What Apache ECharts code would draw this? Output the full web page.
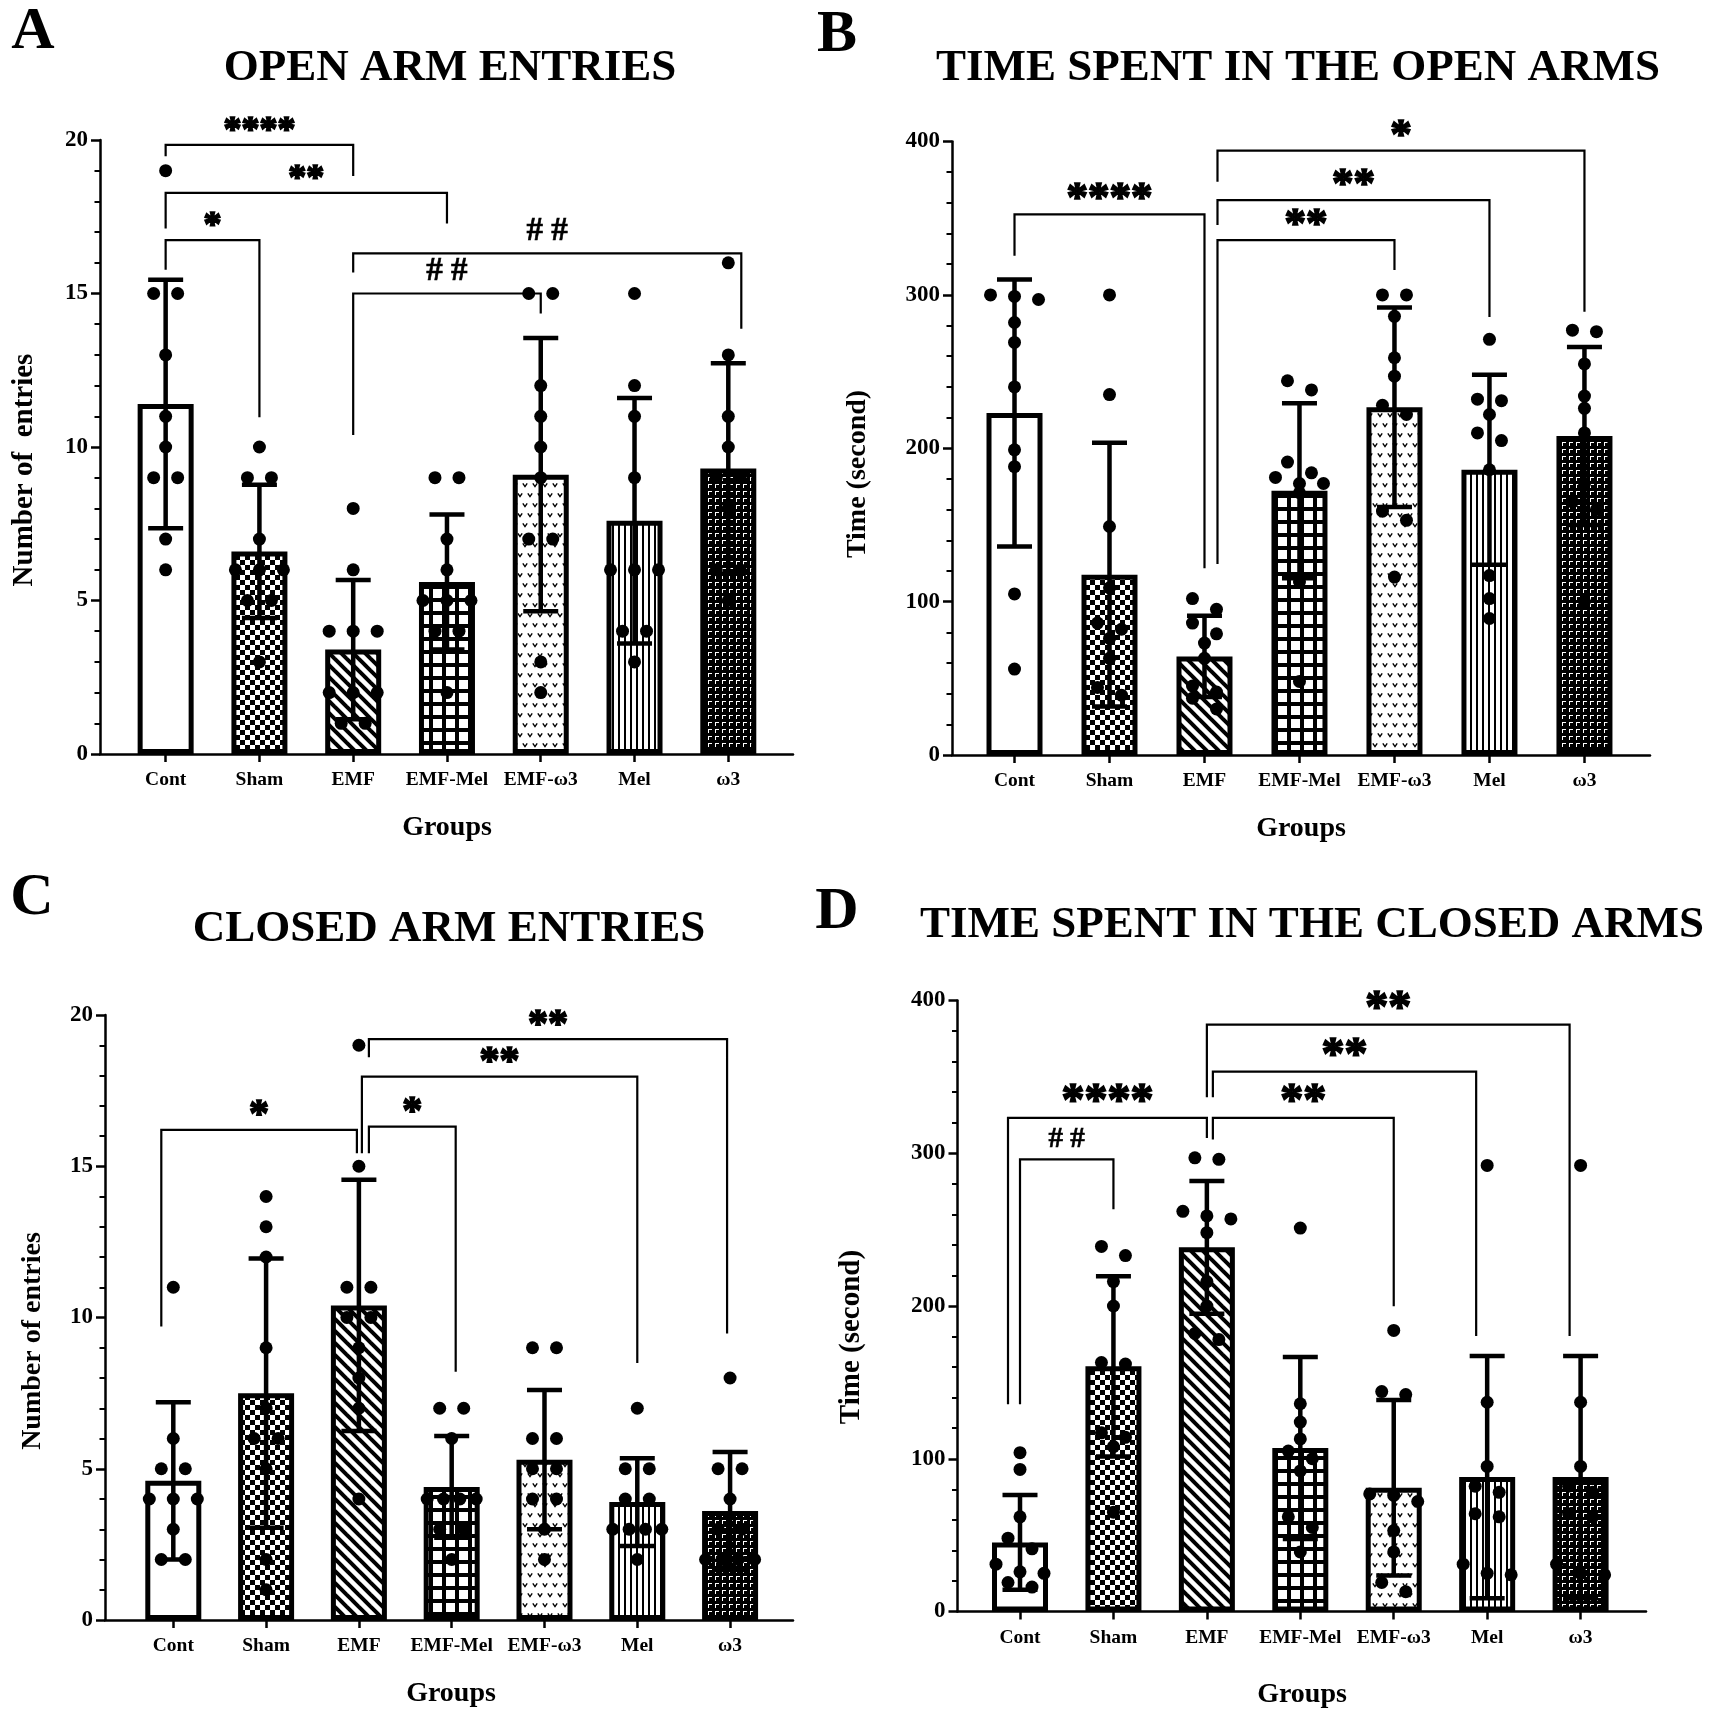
<!DOCTYPE html>
<html>
<head>
<meta charset="utf-8">
<script src="https://cdn.jsdelivr.net/npm/echarts@6.0.0/dist/echarts.min.js"></script>
<style>
  html, body { margin: 0; padding: 0; background: #fff; }
  #chart { width: 1713px; height: 1719px; }
</style>
</head>
<body>
<div id="chart"></div>
<script>
const groups = ['Cont', 'Sham', 'EMF', 'EMF-Mel', 'EMF-ω3', 'Mel', 'ω3'];

// A - open arm entries
const openEntriesMean = [11.4, 6.6, 3.4, 5.6, 9.1, 7.6, 9.3];
const openEntriesSd = [4.05, 2.17, 2.27, 2.2, 4.45, 4.0, 3.43];
const openEntriesPts = [
  [19, 15, 15, 13, 11, 10, 9, 9, 7, 6],
  [10, 9, 9, 7, 6, 6, 6, 5, 5, 3],
  [8, 6, 4, 4, 4, 2, 2, 2, 1, 1],
  [9, 9, 7, 6, 5, 5, 5, 4, 4, 2],
  [15, 15, 12, 11, 10, 9, 7, 7, 3, 2],
  [15, 12, 11, 9, 6, 6, 6, 4, 4, 3],
  [16, 13, 11, 10, 9, 9, 8, 6, 6, 5]
];
// [from, to, top, fromEnd, toEnd, label]
const openEntriesSig = [
  [0, 2, 19.84, 19.47, 18.83, '****'],
  [0, 3, 18.28, 17.12, 17.28, '**'],
  [0, 1, 16.74, 15.77, 10.97, '*'],
  [2, 6, 16.31, 15.68, 13.85, '# #'],
  [2, 4, 15.0, 10.39, 14.35, '# #']
];

// B - time in open arms
const openTimeMean = [223, 117.6, 64.3, 172.3, 226.7, 186, 208];
const openTimeSd = [87, 86, 26.5, 57, 65, 62, 58];
const openTimePts = [
  [300, 299, 297, 282, 269, 240, 199, 188, 105, 56],
  [300, 235, 149, 109, 86, 82, 76, 63, 44, 39],
  [102, 95, 86, 79, 73, 63, 45, 41, 37, 30],
  [244, 238, 191, 184, 181, 177, 177, 171, 113, 48],
  [300, 300, 286, 259, 247, 228, 222, 159, 153, 116],
  [271, 232, 231, 222, 210, 205, 186, 117, 102, 89],
  [277, 276, 255, 234, 226, 210, 177, 165, 160, 100]
];
const openTimeSig = [
  [0, 2, 352.5, 325.5, 121.7, '****'],
  [2, 4, 335.7, 124.5, 316.2, '**'],
  [2, 5, 361.8, 345.5, 285.6, '**'],
  [2, 6, 394, 373.7, 289, '*']
];

// C - closed arm entries
const closedEntriesMean = [4.6, 7.5, 10.4, 4.4, 5.3, 3.9, 3.6];
const closedEntriesSd = [2.6, 4.45, 4.15, 1.68, 2.3, 1.45, 1.95];
const closedEntriesPts = [
  [11, 6, 5, 5, 4, 4, 4, 3, 2, 2],
  [14, 13, 12, 9, 7, 6, 6, 5, 2, 1],
  [19, 15, 11, 11, 10, 10, 9, 8, 7, 4],
  [7, 7, 6, 4, 4, 4, 4, 3, 3, 2],
  [9, 9, 6, 6, 5, 5, 4, 4, 3, 2],
  [7, 5, 5, 4, 4, 3, 3, 3, 3, 2],
  [8, 5, 5, 4, 3, 3, 2, 2, 2, 2]
];
const closedEntriesSig = [
  [0, 2, 16.2, 9.7, 15.43, '*'],
  [2, 3, 16.31, 15.43, 8.21, '*'],
  [2, 5, 17.96, 15.43, 8.5, '**'],
  [2, 6, 19.2, 18.6, 9.47, '**']
];

// D - time in closed arms
const closedTimeMean = [45.2, 160.5, 238.4, 107, 81, 88, 88];
const closedTimeSd = [31, 59, 43.5, 59.6, 57.5, 79.3, 79.3];
const closedTimePts = [
  [104, 93, 62, 48, 41, 31, 26, 25, 19, 16],
  [239, 233, 216, 200, 163, 162, 117, 114, 108, 65],
  [297, 296, 262, 259, 257, 248, 216, 200, 182, 178],
  [251, 136, 124, 113, 105, 100, 92, 62, 55, 39],
  [184, 144, 142, 77, 76, 72, 53, 39, 19, 13],
  [292, 137, 95, 82, 78, 64, 62, 31, 25, 24],
  [292, 137, 95, 82, 78, 64, 62, 31, 25, 24]
];
const closedTimeSig = [
  [0, 1, 296, 135.6, 263.4, '# #'],
  [0, 2, 323.2, 135.6, 310, '****'],
  [2, 4, 323.2, 309, 199.8, '**'],
  [2, 5, 353.5, 336.6, 180.4, '**'],
  [2, 6, 384.2, 336.6, 180.4, '**']
];

const FONT = '"Liberation Serif", "Times New Roman", serif';

// bar fill patterns
function tile(w, h, draw) {
  const c = document.createElement('canvas');
  c.width = w; c.height = h;
  const g = c.getContext('2d');
  g.fillStyle = '#fff'; g.fillRect(0, 0, w, h);
  g.fillStyle = '#000'; g.strokeStyle = '#000';
  draw(g, w, h);
  return { image: c, repeat: 'repeat' };
}
const fills = [
  '#fff',
  tile(10, 10, g => { g.fillRect(0, 0, 5, 5); g.fillRect(5, 5, 5, 5); }),
  tile(12, 12, g => {
    g.lineWidth = 4;
    for (const k of [-1, 0, 1]) {
      g.beginPath(); g.moveTo(k * 12 - 3, -3); g.lineTo(k * 12 + 15, 15); g.stroke();
    }
  }),
  tile(13, 13, g => { g.fillRect(0, 0, 13, 4); g.fillRect(0, 0, 4, 13); }),
  tile(20, 20, g => {
    g.lineWidth = 1.4;
    const v = (x, y) => { g.beginPath(); g.moveTo(x - 2.2, y - 1.6); g.lineTo(x, y + 1.6); g.lineTo(x + 2.2, y - 1.6); g.stroke(); };
    v(5, 5); v(15, 5); v(0, 15); v(10, 15); v(20, 15);
  }),
  tile(6, 6, g => { g.fillRect(0, 0, 2, 6); }),
  tile(7, 7, g => {
    g.fillRect(0, 0, 7, 7);
    g.fillStyle = '#fff';
    g.fillRect(1, 1, 4, 1); g.fillRect(1, 1, 1, 4);
  })
];

// spread dots of (nearly) equal height side by side
function swarm(vals, pxPerUnit) {
  const rows = [];
  vals.slice().sort((a, b) => b - a).forEach(v => {
    const r = rows[rows.length - 1];
    if (r && (r[0] - v) * pxPerUnit < 12) r.push(v); else rows.push([v]);
  });
  const out = [];
  rows.forEach(r => {
    const n = r.length, sp = n > 1 ? Math.min(24, 49 / (n - 1)) : 0;
    r.forEach((v, j) => out.push([v, (j - (n - 1) / 2) * sp]));
  });
  return out;
}

const panels = [
  { grid: { left: 100, top: 140, width: 693, height: 614 }, xMin: -0.70, xMax: 6.69, yMax: 20, step: 5,
    mean: openEntriesMean, sd: openEntriesSd, pts: openEntriesPts, sig: openEntriesSig,
    nudge: [[0, 0], [0, 0], [0, 0], [0, 13], [0, 0]], star: 36, hash: 33 },
  { grid: { left: 952, top: 141.5, width: 698, height: 613.5 }, xMin: -0.658, xMax: 6.69, yMax: 400, step: 100,
    mean: openTimeMean, sd: openTimeSd, pts: openTimePts, sig: openTimeSig,
    nudge: [[0, 0], [13, 0], [13, 0], [13, 0]], star: 43, hash: 33 },
  { grid: { left: 105, top: 1015, width: 688, height: 605 }, xMin: -0.736, xMax: 6.678, yMax: 20, step: 5,
    mean: closedEntriesMean, sd: closedEntriesSd, pts: closedEntriesPts, sig: closedEntriesSig,
    nudge: [[-12, -2], [10, 4], [3, 0], [10, -3]], star: 40, hash: 33 },
  { grid: { left: 957.5, top: 1000.5, width: 688.5, height: 611 }, xMin: -0.669, xMax: 6.70, yMax: 400, step: 100,
    mean: closedTimeMean, sd: closedTimeSd, pts: closedTimePts, sig: closedTimeSig,
    nudge: [[0, 0], [-12, 0], [6, 0], [6, -11], [0, -11]], star: 46, hash: 29 }
];

const option = { animation: false, backgroundColor: '#fff', grid: [], xAxis: [], yAxis: [], series: [], graphic: [] };

panels.forEach((p, k) => {
  option.grid.push(p.grid);
  option.xAxis.push({
    type: 'value', gridIndex: k, min: p.xMin, max: p.xMax,
    axisLine: { show: true, onZero: false, lineStyle: { color: '#000', width: 2.5 } },
    axisTick: { show: true, customValues: [0, 1, 2, 3, 4, 5, 6], length: 8, lineStyle: { color: '#000', width: 2.5 } },
    axisLabel: { customValues: [0, 1, 2, 3, 4, 5, 6], formatter: v => groups[Math.round(v)],
      margin: 16, color: '#000', fontFamily: FONT, fontWeight: 'bold', fontSize: 19.5 },
    splitLine: { show: false }
  });
  option.yAxis.push({
    type: 'value', gridIndex: k, min: 0, max: p.yMax, interval: p.step,
    axisLine: { show: true, onZero: false, lineStyle: { color: '#000', width: 2.5 } },
    axisTick: { show: true, length: 9, lineStyle: { color: '#000', width: 2.5 } },
    minorTick: { show: true, splitNumber: 5, length: 5.5, lineStyle: { color: '#000', width: 2 } },
    axisLabel: { margin: 12, color: '#000', fontFamily: FONT, fontWeight: 'bold', fontSize: 23 },
    splitLine: { show: false }, minorSplitLine: { show: false }
  });
  const pxPerUnit = p.grid.height / p.yMax;

  option.series.push({
    type: 'bar', xAxisIndex: k, yAxisIndex: k, barWidth: 56, z: 2,
    data: p.mean.map((m, i) => ({ value: [i, m], itemStyle: { color: fills[i], borderColor: '#000', borderWidth: 5 } }))
  });

  const dots = [];
  p.pts.forEach((vals, i) => swarm(vals, pxPerUnit).forEach(([v, dx]) => dots.push([i, v, dx])));
  option.series.push({
    type: 'custom', xAxisIndex: k, yAxisIndex: k, z: 4, data: dots,
    encode: { x: 0, y: 1 },
    renderItem: (params, api) => {
      const c = api.coord([api.value(0), api.value(1)]);
      return { type: 'circle', shape: { cx: c[0] + api.value(2), cy: c[1], r: 6.5 }, style: { fill: '#000' } };
    }
  });

  option.series.push({
    type: 'custom', xAxisIndex: k, yAxisIndex: k, z: 5,
    data: p.mean.map((m, i) => [i, m, p.sd[i]]),
    encode: { x: 0, y: 1 },
    renderItem: (params, api) => {
      const i = api.value(0), m = api.value(1), s = api.value(2);
      const t = api.coord([i, m + s]), b = api.coord([i, m - s]);
      const st = { stroke: '#000', lineWidth: 4.5 };
      return { type: 'group', children: [
        { type: 'line', shape: { x1: t[0], y1: t[1], x2: b[0], y2: b[1] }, style: st },
        { type: 'line', shape: { x1: t[0] - 17.5, y1: t[1], x2: t[0] + 17.5, y2: t[1] }, style: st },
        { type: 'line', shape: { x1: b[0] - 17.5, y1: b[1], x2: b[0] + 17.5, y2: b[1] }, style: st }
      ] };
    }
  });

  option.series.push({
    type: 'custom', xAxisIndex: k, yAxisIndex: k, z: 6,
    data: p.sig.map((s, j) => [s[0], s[2], j]),
    encode: { x: 0, y: 1 },
    renderItem: (params, api) => {
      const j = api.value(2), s = p.sig[j], n = p.nudge[j];
      const a = api.coord([s[0], s[2]]), b = api.coord([s[1], s[2]]);
      const ea = api.coord([s[0], s[3]]), eb = api.coord([s[1], s[4]]);
      const x1 = a[0] + n[0], x2 = b[0] + n[1];
      const hash = s[5].charAt(0) === '#';
      const fs = hash ? p.hash : p.star;
      const ty = hash ? a[1] - 10 - 0.35 * fs : a[1] - 11 - 0.07 * fs;
      return { type: 'group', children: [
        { type: 'polyline', shape: { points: [[x1, ea[1]], [x1, a[1]], [x2, a[1]], [x2, eb[1]]] },
          style: { stroke: '#000', lineWidth: 2.2, fill: null } },
        { type: 'text', style: { text: s[5], x: (x1 + x2) / 2, y: ty, fill: '#000',
          stroke: '#000', lineWidth: hash ? 0.6 : 1.6,
          font: 'bold ' + fs + 'px ' + FONT, textAlign: 'center', textVerticalAlign: 'middle',
          align: 'center', verticalAlign: 'middle' } }
      ] };
    }
  });
});

function label(text, x, y, size, rot) {
  return { type: 'text', x: x, y: y, rotation: rot || 0, silent: true,
    style: { text: text, fill: '#000', font: 'bold ' + size + 'px ' + FONT,
      textAlign: 'center', textVerticalAlign: 'middle', align: 'center', verticalAlign: 'middle' } };
}
option.graphic = [
  label('A', 33, 32, 60), label('B', 837, 35, 60), label('C', 32, 898, 60), label('D', 837, 912, 60),
  label('OPEN ARM ENTRIES', 450, 68, 45),
  label('TIME SPENT IN THE OPEN ARMS', 1298, 68, 45),
  label('CLOSED ARM ENTRIES', 449, 929, 45),
  label('TIME SPENT IN THE CLOSED ARMS', 1312, 925, 45),
  label('Number of  entries', 25, 470, 29, Math.PI / 2),
  label('Time (second)', 858, 474, 28, Math.PI / 2),
  label('Number of entries', 33, 1341, 28, Math.PI / 2),
  label('Time (second)', 852, 1337, 29, Math.PI / 2),
  label('Groups', 447, 828, 28), label('Groups', 1301, 829, 28),
  label('Groups', 451, 1694, 28), label('Groups', 1302, 1695, 28)
];

const chart = echarts.init(document.getElementById('chart'), null, { renderer: 'canvas' });
chart.setOption(option);
</script>
</body>
</html>
